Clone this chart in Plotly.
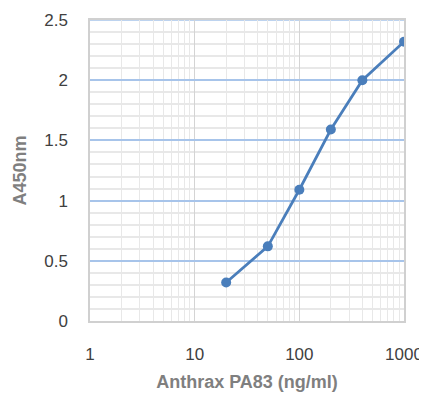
import plotly.graph_objects as go

concentration = [20, 50, 100, 200, 400, 1000]
absorbance = [0.32, 0.62, 1.09, 1.59, 2.0, 2.32]
x_ticks = [1, 10, 100, 1000]
x_tick_labels = ["1", "10", "100", "1000"]
y_ticks = [0, 0.5, 1, 1.5, 2, 2.5]
y_tick_labels = ["0", "0.5", "1", "1.5", "2", "2.5"]
y_top = 2.5

fig = go.Figure()
fig.add_trace(go.Scatter(
    x=concentration, y=absorbance, mode="lines+markers",
    line=dict(color="#4a7ebb", width=2.75),
    marker=dict(color="#4a7ebb", size=10),
    showlegend=False,
))

font_family = "Liberation Sans, Arial, sans-serif"
# page body has an 8px default margin, so the figure is sized to fit 427x400
fig.update_layout(
    width=419, height=384,
    margin=dict(l=82, r=23, t=12, b=71, autoexpand=False),
    paper_bgcolor="white", plot_bgcolor="white",
    font=dict(family=font_family, color="#595959"),
    xaxis=dict(
        type="log", range=[0, 3], automargin=False,
        tickvals=x_ticks, ticktext=x_tick_labels,
        tickfont=dict(size=17, color="#404040"),
        ticks="outside", ticklen=17, tickcolor="rgba(0,0,0,0)",
        showgrid=True, gridcolor="#d4d4d4", gridwidth=1,
        minor=dict(showgrid=True, gridcolor="#e8e8e8", dtick="D1", ticks=""),
        showline=True, linecolor="#d0d0d0", linewidth=1.5, mirror=True,
        zeroline=False,
        title=dict(text="<b>Anthrax PA83 (ng/ml)</b>", font=dict(size=18, color="#7f7f7f"), standoff=14),
    ),
    yaxis=dict(
        range=[0, y_top], automargin=False,
        tickvals=y_ticks, ticktext=y_tick_labels,
        tickfont=dict(size=17, color="#404040"),
        ticks="outside", ticklen=17, tickcolor="rgba(0,0,0,0)",
        showgrid=True, gridcolor="#a7c4ea", gridwidth=1.5,
        minor=dict(showgrid=True, gridcolor="#e8e8e8", dtick=0.1, ticks=""),
        showline=True, linecolor="#d0d0d0", linewidth=1.5, mirror=True,
        zeroline=False,
        title=dict(text="<b>A450nm</b>", font=dict(size=18, color="#7f7f7f"), standoff=13),
    ),
    shapes=[dict(type="line", xref="paper", x0=0, x1=1, yref="y", y0=y_top, y1=y_top,
                 line=dict(color="#a7c4ea", width=1.5), layer="below")],
)
fig.write_html("out.html")
